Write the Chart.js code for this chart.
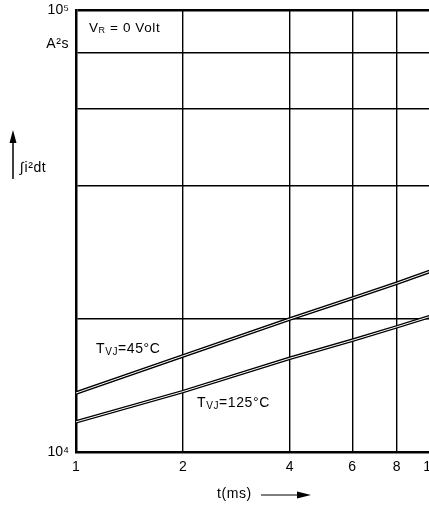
<!DOCTYPE html>
<html>
<head>
<meta charset="utf-8">
<script src="https://cdn.jsdelivr.net/npm/chart.js@4.4.0/dist/chart.umd.min.js"></script>
<style>
  html, body { margin: 0; padding: 0; background: #fff; overflow: hidden; }
  #wrap { position: relative; width: 447px; height: 519px; margin-top: -5px; }
</style>
</head>
<body>
<div id="wrap"><canvas id="myChart"></canvas></div>
<script>
// data (log-log, t in ms, i2t in A2s)
var tMs = [1, 2, 4, 6, 8, 10]
var i2t45 = [13600, 16500, 20000, 22300, 24100, 25700]
var i2t125 = [11700, 13700, 16300, 17900, 19200, 20300]
var xTicks = [1, 2, 4, 6, 8, 10]
var yTicks = [10000, 20000, 40000, 60000, 80000, 100000]
var yTickLabels = { 10000: '10\u2074', 100000: '10\u2075' }

var FONT = "'Liberation Sans', Arial, sans-serif"
var OFF = 5 // canvas is shifted up by this much in the page

function points(ys) {
  return tMs.map(function (t, i) { return { x: t, y: ys[i] } })
}

// draw a text with subscript pieces, parts = [[text, isSub], ...]
function drawParts(ctx, parts, x, y, size) {
  parts.forEach(function (p) {
    ctx.font = (p[1] ? Math.round(size * 0.68) + 'px ' : size + 'px ') + FONT
    ctx.fillText(p[0], x, p[1] ? y + 3 : y)
    x += ctx.measureText(p[0]).width
  })
}

function arrowHead(ctx, x, y, dx, dy, len, half) {
  // tip at (x,y), pointing along (dx,dy)
  var nx = -dy, ny = dx
  ctx.beginPath()
  ctx.moveTo(x, y)
  ctx.lineTo(x - dx * len + nx * half, y - dy * len + ny * half)
  ctx.lineTo(x - dx * len - nx * half, y - dy * len - ny * half)
  ctx.closePath()
  ctx.fill()
}

var labelsPlugin = {
  id: 'labelsPlugin',
  afterDraw: function (chart) {
    var ctx = chart.ctx
    ctx.save()
    ctx.translate(0, OFF)
    ctx.fillStyle = '#000'
    ctx.strokeStyle = '#000'
    ctx.textBaseline = 'middle'
    ctx.letterSpacing = '0.6px'

    // unit under 10^5
    ctx.font = '14px ' + FONT
    ctx.textAlign = 'right'
    ctx.fillText('A\u00b2s', 69, 44)

    // y axis quantity with arrow
    ctx.textAlign = 'left'
    ctx.fillText('\u222bi\u00b2dt', 20, 168)
    ctx.lineWidth = 1.5
    ctx.beginPath()
    ctx.moveTo(13, 179)
    ctx.lineTo(13, 140)
    ctx.stroke()
    arrowHead(ctx, 13, 130, 0, -1, 13, 3.5)

    // x axis title with arrow
    ctx.font = '14px ' + FONT
    ctx.fillText('t(ms)', 217, 494)
    ctx.lineWidth = 1
    ctx.beginPath()
    ctx.moveTo(261, 495)
    ctx.lineTo(300, 495)
    ctx.stroke()
    arrowHead(ctx, 311, 495, 1, 0, 14, 3.5)

    // condition text
    drawParts(ctx, [['V', false], ['R', true], [' = 0 Volt', false]], 89, 28, 13.5)

    // curve labels
    drawParts(ctx, [['T', false], ['VJ', true], ['=45\u00b0C', false]], 96, 349, 14)
    drawParts(ctx, [['T', false], ['VJ', true], ['=125\u00b0C', false]], 197, 403, 14)
    ctx.restore()
  }
}

var ctx = document.getElementById('myChart').getContext('2d')
var chart = new Chart(ctx, {
  type: 'line',
  data: {
    datasets: [
      { label: 'T45 inner', data: points(i2t45), borderColor: '#fff', borderWidth: 1, pointRadius: 0, order: 1 },
      { label: 'T45', data: points(i2t45), borderColor: '#000', borderWidth: 3.6, pointRadius: 0, order: 2 },
      { label: 'T125 inner', data: points(i2t125), borderColor: '#fff', borderWidth: 1, pointRadius: 0, order: 1 },
      { label: 'T125', data: points(i2t125), borderColor: '#000', borderWidth: 3.6, pointRadius: 0, order: 2 }
    ]
  },
  options: {
    responsive: true,
    maintainAspectRatio: false,
    animation: false,
    layout: { padding: { top: 15, right: 16, left: 0, bottom: 0 } },
    plugins: { legend: { display: false }, tooltip: { enabled: false } },
    elements: { line: { tension: 0, fill: false } },
    scales: {
      x: {
        type: 'logarithmic',
        min: 1,
        max: 10,
        afterBuildTicks: function (scale) {
          scale.ticks = xTicks.map(function (v) { return { value: v } })
        },
        afterFit: function (scale) { scale.height = 62 },
        ticks: {
          autoSkip: false,
          maxRotation: 0,
          padding: 7,
          color: '#000',
          font: { family: FONT, size: 14 },
          callback: function (v) { return String(v) }
        },
        grid: { color: '#000', lineWidth: 1.4, drawTicks: false },
        border: { color: '#000', width: 2.5 }
      },
      y: {
        type: 'logarithmic',
        min: 10000,
        max: 100000,
        afterBuildTicks: function (scale) {
          scale.ticks = yTicks.map(function (v) { return { value: v } })
        },
        afterFit: function (scale) { scale.width = 76 },
        ticks: {
          autoSkip: false,
          padding: 7,
          color: '#000',
          font: { family: FONT, size: 14 },
          callback: function (v) { return yTickLabels[v] || '' }
        },
        grid: {
          color: '#000',
          drawTicks: false,
          lineWidth: function (c) { return c.tick && c.tick.value === 100000 ? 2.5 : 1.4 }
        },
        border: { color: '#000', width: 2.5 }
      }
    }
  },
  plugins: [labelsPlugin]
})
</script>
</body>
</html>
